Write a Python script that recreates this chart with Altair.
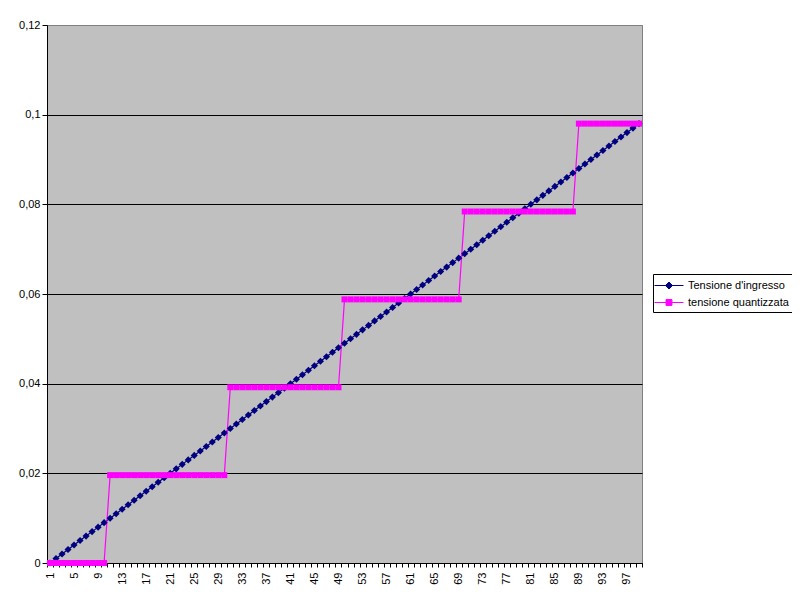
import altair as alt
import pandas as pd

# Sample index (categories on the x axis)
campioni = list(range(1, 100))

# Series 1: input voltage
tensione_ingresso = [
    0.000, 0.001, 0.002, 0.003, 0.004, 0.005, 0.006, 0.007, 0.008, 0.009,
    0.010, 0.011, 0.012, 0.013, 0.014, 0.015, 0.016, 0.017, 0.018, 0.019,
    0.020, 0.021, 0.022, 0.023, 0.024, 0.025, 0.026, 0.027, 0.028, 0.029,
    0.030, 0.031, 0.032, 0.033, 0.034, 0.035, 0.036, 0.037, 0.038, 0.039,
    0.040, 0.041, 0.042, 0.043, 0.044, 0.045, 0.046, 0.047, 0.048, 0.049,
    0.050, 0.051, 0.052, 0.053, 0.054, 0.055, 0.056, 0.057, 0.058, 0.059,
    0.060, 0.061, 0.062, 0.063, 0.064, 0.065, 0.066, 0.067, 0.068, 0.069,
    0.070, 0.071, 0.072, 0.073, 0.074, 0.075, 0.076, 0.077, 0.078, 0.079,
    0.080, 0.081, 0.082, 0.083, 0.084, 0.085, 0.086, 0.087, 0.088, 0.089,
    0.090, 0.091, 0.092, 0.093, 0.094, 0.095, 0.096, 0.097, 0.098,
]

# Series 2: quantized voltage
tensione_quantizzata = [
    0, 0, 0, 0, 0, 0, 0, 0, 0, 0,
    0.0196, 0.0196, 0.0196, 0.0196, 0.0196, 0.0196, 0.0196, 0.0196, 0.0196, 0.0196,
    0.0196, 0.0196, 0.0196, 0.0196, 0.0196, 0.0196, 0.0196, 0.0196, 0.0196, 0.0196,
    0.0392, 0.0392, 0.0392, 0.0392, 0.0392, 0.0392, 0.0392, 0.0392, 0.0392, 0.0392,
    0.0392, 0.0392, 0.0392, 0.0392, 0.0392, 0.0392, 0.0392, 0.0392, 0.0392,
    0.0588, 0.0588, 0.0588, 0.0588, 0.0588, 0.0588, 0.0588, 0.0588, 0.0588, 0.0588,
    0.0588, 0.0588, 0.0588, 0.0588, 0.0588, 0.0588, 0.0588, 0.0588, 0.0588, 0.0588,
    0.0784, 0.0784, 0.0784, 0.0784, 0.0784, 0.0784, 0.0784, 0.0784, 0.0784, 0.0784,
    0.0784, 0.0784, 0.0784, 0.0784, 0.0784, 0.0784, 0.0784, 0.0784, 0.0784,
    0.098, 0.098, 0.098, 0.098, 0.098, 0.098, 0.098, 0.098, 0.098, 0.098, 0.098,
]

y_ticks = [0, 0.02, 0.04, 0.06, 0.08, 0.1, 0.12]

S1 = "Tensione d'ingresso"
S2 = "tensione quantizzata"
C1 = "#000080"
C2 = "#FF00FF"
FONT = "Liberation Sans"

df = pd.DataFrame({
    "n": campioni + campioni,
    "v": tensione_ingresso + tensione_quantizzata,
    "serie": [S1] * len(campioni) + [S2] * len(campioni),
})

x_enc = alt.X(
    "n:O",
    scale=alt.Scale(type="band", paddingInner=0, paddingOuter=0),
    axis=alt.Axis(
        title=None, tickBand="extent", labelAngle=270,
        labelExpr="(datum.value - 1) % 4 == 0 ? datum.label : ''",
        labelOverlap=False, grid=False,
        domainColor="black", tickColor="black", tickSize=4,
        labelPadding=5, labelFont=FONT, labelFontSize=11, labelColor="black",
    ),
)
y_enc = alt.Y(
    "v:Q",
    scale=alt.Scale(domain=[0, 0.12], nice=False, zero=True),
    axis=alt.Axis(
        title=None, values=y_ticks,
        labelExpr="replace(format(datum.value, '.2~f'), '.', ',')",
        grid=True,
        gridColor={"condition": {"test": "datum.value > 0.11", "value": "#808080"}, "value": "black"},
        gridWidth=1, domainColor="black", tickColor="black", tickSize=5,
        labelPadding=2, labelFont=FONT, labelFontSize=11, labelColor="black",
    ),
)

# legend symbols: short line with the series marker on it
DIA_PATH = "M-1.43,0H2.71M0.64,-0.5L1.14,0L0.64,0.5L0.14,0Z"
SQ_PATH = "M-1.43,0H2.71M0.22,-0.42H1.06V0.42H0.22Z"

legend = alt.Legend(
    title=None, orient="none", legendX=606, legendY=249,
    strokeColor="black", fillColor="white", padding=4,
    symbolSize=196, symbolStrokeWidth=1,
    labelOffset=16, rowPadding=4,
    labelFont=FONT, labelFontSize=11, labelColor="black",
)

lines = alt.Chart(df).mark_line(strokeWidth=1.2).encode(
    x=x_enc, y=y_enc,
    color=alt.Color("serie:N", scale=alt.Scale(domain=[S1, S2], range=[C1, C2]), legend=legend),
)

pts_in = alt.Chart(df).transform_filter(alt.datum.serie == S1).mark_point(
    shape="diamond", filled=True, size=50, color=C1, opacity=1
).encode(x=x_enc, y=y_enc)

pts_q = alt.Chart(df).transform_filter(alt.datum.serie == S2).mark_point(
    shape="square", filled=True, size=36, color=C2, opacity=1
).encode(x=x_enc, y=y_enc)

# legend-only layer (its marks have zero size)
legend_layer = alt.Chart(df).mark_point(filled=True, size=0, opacity=1).encode(
    x=x_enc, y=y_enc,
    fill=alt.Fill("serie:N", scale=alt.Scale(domain=[S1, S2], range=[C1, C2]), legend=legend),
    stroke=alt.Stroke("serie:N", scale=alt.Scale(domain=[S1, S2], range=[C1, C2]), legend=legend),
    shape=alt.Shape("serie:N", scale=alt.Scale(domain=[S1, S2], range=[DIA_PATH, SQ_PATH]), legend=legend),
)

chart = alt.layer(lines, pts_in, pts_q, legend_layer).properties(
    width=595, height=538,
    autosize=alt.AutoSizeParams(type="none"),
    padding={"left": 39, "top": 17, "right": 150, "bottom": 30},
    background="white",
).configure_view(
    fill="#C0C0C0", stroke="#808080", strokeWidth=1,
)

chart.save("out.html", embed_options={"renderer": "svg", "actions": False})
